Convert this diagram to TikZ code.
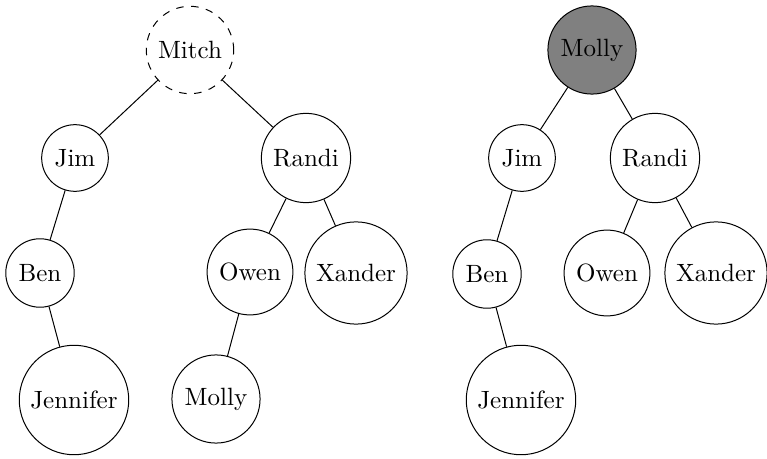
\documentclass[tikz,border=0pt]{standalone}
\begin{document}
\begin{tikzpicture}[x=0.4pt,y=-0.4pt,person/.style={draw,circle}]
        \useasboundingbox (0,0) rectangle (767,459);
        \node[person, dashed] (mitch) at (190,50) {Mitch};
        \node[person] (jimA) at (75,158) {Jim};
        \node[person] (randiA) at (306,158) {Randi};
        \node[person] (benA) at (40,273) {Ben};
        \node[person] (owenA) at (250,272) {Owen};
        \node[person] (xanderA) at (356,273) {Xander};
        \node[person] (jenniferA) at (74,400) {Jennifer};
        \node[person] (mollyA) at (216,399) {Molly};
        \draw (mitch) -- (jimA);
        \draw (mitch) -- (randiA);
        \draw (jimA) -- (benA);
        \draw (benA) -- (jenniferA);
        \draw (randiA) -- (owenA);
        \draw (randiA) -- (xanderA);
        \draw (owenA) -- (mollyA);
        \node[person, fill=gray] (mollyB) at (592,50) {Molly};
        \node[person] (jimB) at (522,158) {Jim};
        \node[person] (randiB) at (655,158) {Randi};
        \node[person] (benB) at (487,274) {Ben};
        \node[person] (owenB) at (607,273) {Owen};
        \node[person] (xanderB) at (716,273) {Xander};
        \node[person] (jenniferB) at (521,400) {Jennifer};
        \draw (mollyB) -- (jimB);
        \draw (mollyB) -- (randiB);
        \draw (jimB) -- (benB);
        \draw (benB) -- (jenniferB);
        \draw (randiB) -- (owenB);
        \draw (randiB) -- (xanderB);
    \end{tikzpicture}
\end{document}
